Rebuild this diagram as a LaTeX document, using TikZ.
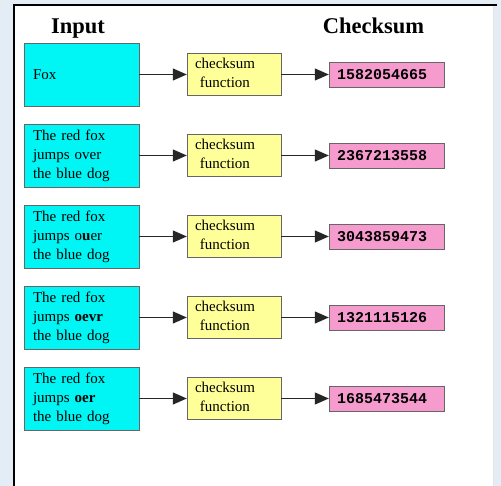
\documentclass[tikz,border=0pt]{standalone}
\usepackage{fontspec}
\setmainfont{Liberation Serif}
\setmonofont{Liberation Mono}
\usepackage{tikz}
\usetikzlibrary{arrows.meta}
\usepackage{xcolor}
\definecolor{inbox}{RGB}{0,245,245}
\definecolor{fnbox}{RGB}{255,255,153}
\definecolor{hashbox}{RGB}{245,155,205}
\definecolor{backblue}{RGB}{228,236,245}

\begin{document}
\begin{tikzpicture}[x=1pt,y=-1pt,
  inp/.style={draw=black!60,fill=inbox,text width=97pt,inner xsep=9pt,inner ysep=0pt,minimum height=63pt,align=left,font=\fontsize{15}{19}\selectfont},
  fn/.style={draw=black!60,fill=fnbox,text width=78pt,inner xsep=8pt,inner ysep=0pt,minimum height=42pt,align=left,font=\fontsize{15}{19}\selectfont},
  hash/.style={draw=black!60,fill=hashbox,text width=99pt,inner xsep=8pt,inner ysep=0pt,minimum height=25pt,align=left,font=\ttfamily\bfseries\fontsize{15}{17}\selectfont},
  arr/.style={-{Triangle[length=14pt,width=12pt]},line width=1.2pt,black!85}]
  \useasboundingbox (0,0) rectangle (501,486);
  \fill[backblue] (0,0) rectangle (501,486);
  \fill[white] (14,5) rectangle (493,486);
  \draw[black!10] (493,5) -- (493,486);
  \draw[line width=2pt] (14,486) -- (14,5) -- (497,5);

  \node[font=\bfseries\fontsize{22.5}{27}\selectfont,anchor=base] (intitle) at (78,34) {Input};
  \node[font=\bfseries\fontsize{22.5}{27}\selectfont,anchor=base] (sumtitle) at (373.5,34) {Checksum};

  \node[inp] (in1) at (81.5,74.5) {Fox};
  \node[inp] (in2) at (81.5,155.5) {The red fox\\jumps over\\the blue dog};
  \node[inp] (in3) at (81.5,236.5) {The red fox\\jumps o\textbf{u}er\\the blue dog};
  \node[inp] (in4) at (81.5,317.5) {The red fox\\jumps \textbf{oevr}\\the blue dog};
  \node[inp] (in5) at (81.5,398.5) {The red fox\\jumps \textbf{oer}\\the blue dog};

  \node[fn] (fn1) at (234,74.5) {\begin{tabular}{@{}c@{}}checksum\\function\end{tabular}};
  \node[fn] (fn2) at (234,155.5) {\begin{tabular}{@{}c@{}}checksum\\function\end{tabular}};
  \node[fn] (fn3) at (234,236.5) {\begin{tabular}{@{}c@{}}checksum\\function\end{tabular}};
  \node[fn] (fn4) at (234,317.5) {\begin{tabular}{@{}c@{}}checksum\\function\end{tabular}};
  \node[fn] (fn5) at (234,398.5) {\begin{tabular}{@{}c@{}}checksum\\function\end{tabular}};

  \node[hash] (sum1) at (386.5,74.5) {1582054665};
  \node[hash] (sum2) at (386.5,155.5) {2367213558};
  \node[hash] (sum3) at (386.5,236.5) {3043859473};
  \node[hash] (sum4) at (386.5,317.5) {1321115126};
  \node[hash] (sum5) at (386.5,398.5) {1685473544};

  \draw[arr] (in1) -- (fn1);
  \draw[arr] (in2) -- (fn2);
  \draw[arr] (in3) -- (fn3);
  \draw[arr] (in4) -- (fn4);
  \draw[arr] (in5) -- (fn5);
  \draw[arr] (fn1) -- (sum1);
  \draw[arr] (fn2) -- (sum2);
  \draw[arr] (fn3) -- (sum3);
  \draw[arr] (fn4) -- (sum4);
  \draw[arr] (fn5) -- (sum5);
\end{tikzpicture}
\end{document}
